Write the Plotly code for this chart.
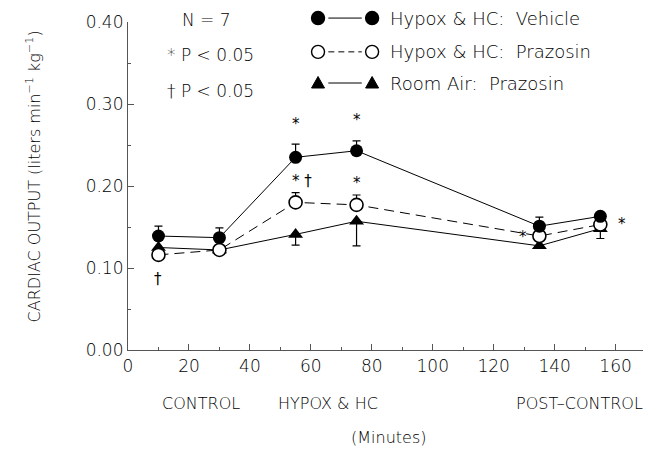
import plotly.graph_objects as go

# ---- data ----
minutes = [10, 30, 55, 75, 135, 155]
vehicle = [0.139, 0.137, 0.235, 0.243, 0.151, 0.163]
vehicle_err = [0.012, 0.012, 0.016, 0.012, 0.011, 0.005]
prazosin = [0.116, 0.122, 0.180, 0.177, 0.139, 0.153]
prazosin_err = [0.0, 0.0, 0.012, 0.012, 0.0, 0.0]
roomair = [0.125, 0.122, 0.141, 0.157, 0.127, 0.148]
roomair_err = [0.0, 0.0, 0.013, 0.030, 0.0, 0.012]

legend_labels = ["Hypox & HC:  Vehicle", "Hypox & HC:  Prazosin", "Room Air:  Prazosin"]
yticks = [0.0, 0.1, 0.2, 0.3, 0.4]
ytick_text = ["0.00", "0.10", "0.20", "0.30", "0.40"]
xticks = [0, 20, 40, 60, 80, 100, 120, 140, 160]

# significance marks: (x, y, text)
sig_marks = [
    (55, 0.276, "*"), (75, 0.281, "*"),
    (57, 0.206, "* \u2020"), (75, 0.204, "*"),
    (10, 0.087, "\u2020"),
    (129.5, 0.138, "*"), (162, 0.154, "*"),
]
phase_labels = [(24.0, "CONTROL"), (65.5, "HYPOX & HC"), (148, "POST\u2013CONTROL")]

FONT = "DejaVu Sans"
W = 200
INK = "#000000"
TXT = "#000000"


def f(size, color=TXT, weight=W):
    return dict(family=FONT, size=size, color=color, weight=weight)


fig = go.Figure()

fig.add_trace(go.Scatter(
    x=minutes, y=roomair, mode="lines+markers",
    line=dict(color=INK, width=1),
    marker=dict(symbol="triangle-up", size=13, color=INK),
    error_y=dict(type="data", array=[0]*6, arrayminus=roomair_err, symmetric=False,
                 color=INK, thickness=1.2, width=4),
    showlegend=False))
fig.add_trace(go.Scatter(
    x=minutes, y=prazosin, mode="lines+markers",
    line=dict(color=INK, width=1, dash="10px,6px"),
    marker=dict(symbol="circle", size=13, color="white", line=dict(color=INK, width=1.6)),
    error_y=dict(type="data", array=prazosin_err, arrayminus=[0]*6, symmetric=False,
                 color=INK, thickness=1.2, width=4),
    showlegend=False))
fig.add_trace(go.Scatter(
    x=minutes, y=vehicle, mode="lines+markers",
    line=dict(color=INK, width=1),
    marker=dict(symbol="circle", size=13, color=INK),
    error_y=dict(type="data", array=vehicle_err, arrayminus=[0]*6, symmetric=False,
                 color=INK, thickness=1.2, width=4),
    showlegend=False))

annotations = []
for x, y, t in sig_marks:
    annotations.append(dict(x=x, y=y, xref="x", yref="y", text=t, showarrow=False,
                            font=f(15, INK, 400)))
for x, t in phase_labels:
    annotations.append(dict(x=x, y=-0.162, xref="x", yref="paper", text=t, showarrow=False,
                            xanchor="center", yanchor="middle", font=f(16)))
annotations.append(dict(x=85.4, y=-0.268, xref="x", yref="paper", text="(Minutes)",
                        showarrow=False, xanchor="center", yanchor="middle", font=f(16)))
annotations.append(dict(x=-0.184, y=0.53, xref="paper", yref="paper", textangle=-90,
                        xanchor="center", yanchor="middle",
                        text="CARDIAC OUTPUT (liters min<sup>\u22121</sup> kg<sup>\u22121</sup>)",
                        showarrow=False, font=f(16)))
# stats text
for xp, yp, t in [(0.101, 1.006, "N = 7"), (0.072, 0.898, "* P < 0.05"), (0.072, 0.790, "\u2020 P < 0.05")]:
    annotations.append(dict(x=xp, y=yp, xref="paper", yref="paper",
                            text=t, showarrow=False, xanchor="left", yanchor="middle",
                            font=f(17)))

# custom legend
shapes = []
rows = [1.012, 0.909, 0.814]
x1p, x2p, xtp = 0.369, 0.474, 0.505
styles = [("filled", "solid"), ("open", "dash"), ("tri", "solid")]
for yp, lab, (kind, dash) in zip(rows, legend_labels, styles):
    shapes.append(dict(type="line", xref="paper", yref="paper", x0=x1p + 0.02, x1=x2p - 0.02,
                       y0=yp, y1=yp, line=dict(color=INK, width=1, dash="6px,4px" if dash == "dash" else "solid")))
    for xp in (x1p, x2p):
        if kind == "tri":
            shapes.append(dict(type="path", xref="paper", yref="paper", xsizemode="pixel",
                               ysizemode="pixel", xanchor=xp, yanchor=yp,
                               path="M -6.5 -5 L 6.5 -5 L 0 6.5 Z",
                               fillcolor=INK, line=dict(color=INK, width=1)))
        else:
            shapes.append(dict(type="circle", xref="paper", yref="paper", xsizemode="pixel",
                               ysizemode="pixel", xanchor=xp, yanchor=yp,
                               x0=-6.5, x1=6.5, y0=-6.5, y1=6.5,
                               fillcolor=INK if kind == "filled" else "white",
                               line=dict(color=INK, width=1.4)))
    annotations.append(dict(x=xtp, y=yp, xref="paper", yref="paper", text=lab, showarrow=False,
                            xanchor="left", yanchor="middle", font=f(18)))

fig.update_layout(
    width=667, height=452,
    margin=dict(l=128, r=24, t=22, b=102),
    paper_bgcolor="white", plot_bgcolor="white",
    annotations=annotations, shapes=shapes,
    font=f(16),
    xaxis=dict(range=[0, 169], tickvals=xticks, showgrid=False, zeroline=False,
               showline=True, linecolor="#555", linewidth=1.2,
               ticks="inside", ticklen=6, tickcolor="#555",
               minor=dict(dtick=10, ticks="inside", ticklen=3, tickcolor="#555"),
               tickfont=f(17)),
    yaxis=dict(range=[0, 0.40], tickvals=yticks, ticktext=ytick_text, showgrid=False,
               zeroline=False, showline=True, linecolor="#555", linewidth=1.2,
               ticks="inside", ticklen=6, tickcolor="#555",
               minor=dict(dtick=0.05, ticks="inside", ticklen=3, tickcolor="#555"),
               tickfont=f(17)),
)

fig.write_html("out.html", config={"displayModeBar": False},
               post_script="document.body.style.margin='0';")
